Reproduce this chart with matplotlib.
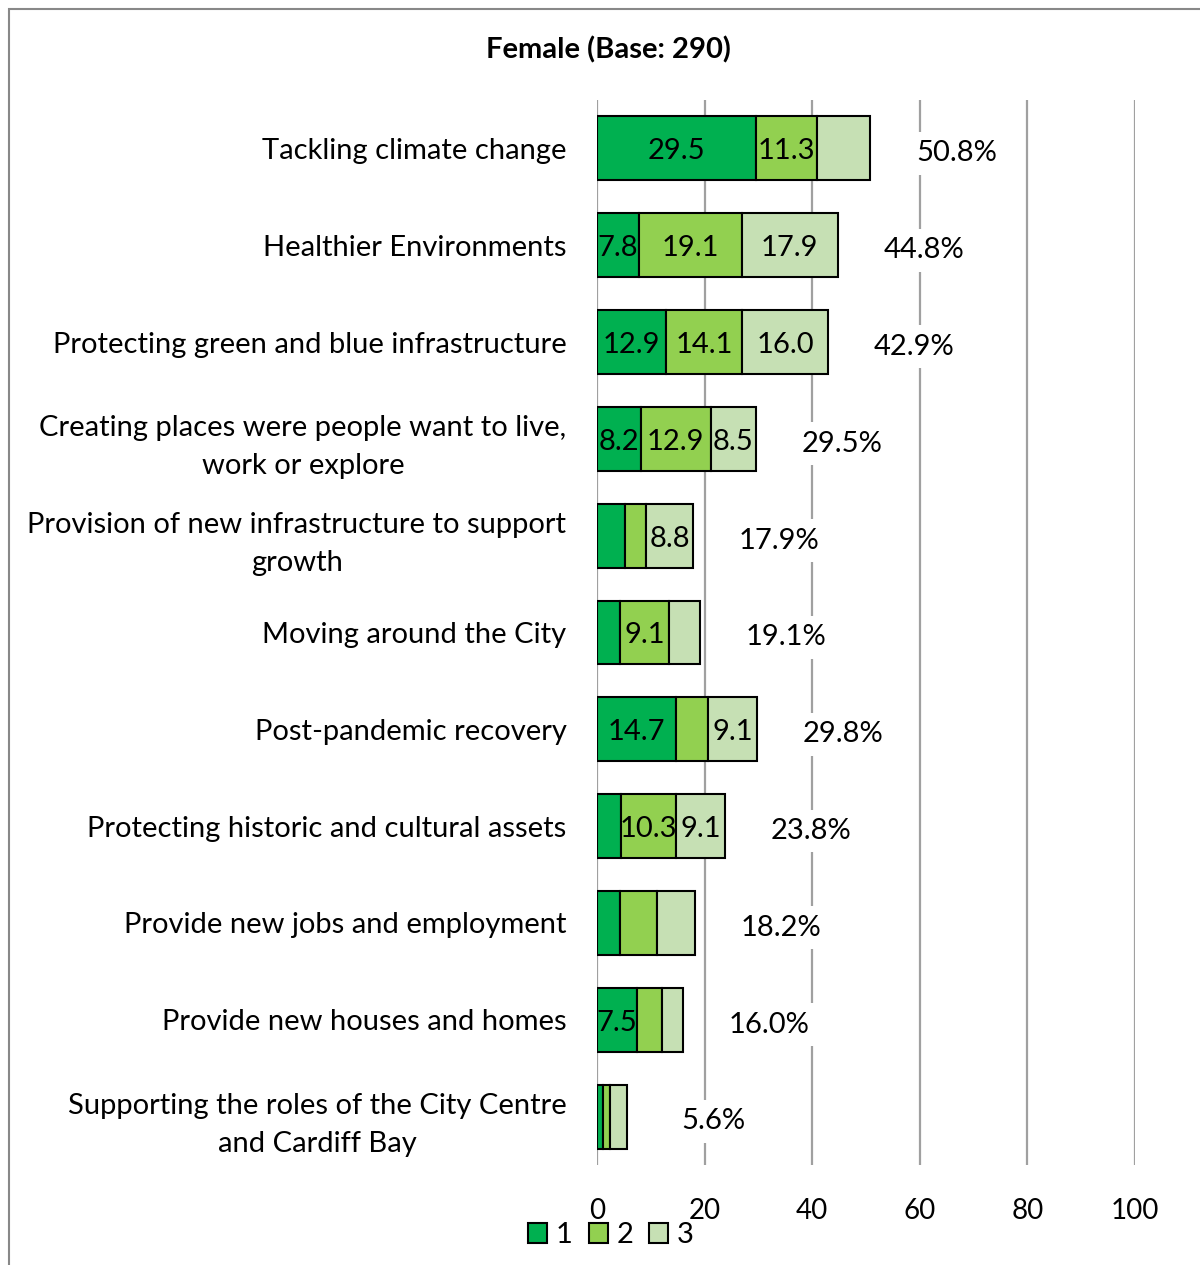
import matplotlib
matplotlib.use("Agg")
import matplotlib.pyplot as plt
import numpy as np
from matplotlib.patches import Patch, Rectangle

categories = [
    "Tackling climate change",
    "Healthier Environments",
    "Protecting green and blue infrastructure",
    "Creating places were people want to live,\nwork or explore",
    "Provision of new infrastructure to support\ngrowth",
    "Moving around the City",
    "Post-pandemic recovery",
    "Protecting historic and cultural assets",
    "Provide new jobs and employment",
    "Provide new houses and homes",
    "Supporting the roles of the City Centre\nand Cardiff Bay",
]
rank1 = [29.5, 7.8, 12.9, 8.2, 5.2, 4.3, 14.7, 4.4, 4.3, 7.5, 1.1]
rank2 = [11.3, 19.1, 14.1, 12.9, 3.9, 9.1, 6.0, 10.3, 6.9, 4.6, 1.3]
rank3 = [10.0, 17.9, 16.0, 8.5, 8.8, 5.7, 9.1, 9.1, 7.0, 3.9, 3.2]
totals = [50.8, 44.8, 42.9, 29.5, 17.9, 19.1, 29.8, 23.8, 18.2, 16.0, 5.6]
show1 = [1, 1, 1, 1, 0, 0, 1, 0, 0, 1, 0]
show2 = [1, 1, 1, 1, 0, 1, 0, 1, 0, 0, 0]
show3 = [0, 1, 1, 1, 1, 0, 1, 1, 0, 0, 0]
series_names = ["1", "2", "3"]
colors = ["#00B050", "#92D050", "#C6E0B4"]
xticks = [0, 20, 40, 60, 80, 100]
title = "Female (Base: 290)"

plt.rcParams['font.family'] = ['Lato', 'DejaVu Sans']
FS = 21

fig = plt.figure(figsize=(12, 12.65), dpi=100)
ax = fig.add_axes([597/1200, 1-1165/1265, (1135-597)/1200, (1165-100)/1265])

y = np.arange(len(categories))
left = np.zeros(len(categories))
for vals, shows, col, name in zip([rank1, rank2, rank3], [show1, show2, show3], colors, series_names):
    vals = np.array(vals)
    bars = ax.barh(y, vals, left=left, height=0.66, color=col, edgecolor='black', linewidth=1.5, label=name, zorder=3)
    for i, (b, v, s) in enumerate(zip(bars, vals, shows)):
        if s:
            ax.text(left[i] + v/2, i + 0.03, f"{v:.1f}", ha='center', va='center', fontsize=FS, zorder=4)
    left = left + vals

for i, t in enumerate(totals):
    ax.text(t + 16, i + 0.05, f"{t:.1f}%", ha='center', va='center', fontsize=FS, zorder=2,
            bbox=dict(facecolor='white', edgecolor='none', pad=6))

ax.set_xlim(0, 100)
ax.set_ylim(len(categories) - 0.5, -0.5)
ax.set_xticks(xticks)
ax.set_xticklabels([str(v) for v in xticks], fontsize=20)
ax.set_yticks(y)
ax.set_yticklabels(categories, fontsize=FS, multialignment='center', linespacing=1.55)
ax.tick_params(axis='y', length=0, pad=22)
ax.tick_params(axis='x', length=0, pad=24)
for s in ax.spines.values():
    s.set_visible(False)
ax.grid(axis='x', color='#A0A0A0', linewidth=1.6, zorder=0)
ax.set_axisbelow(True)

fig.text(608/1200, 1-50/1265, title, ha='center', va='center', fontsize=21, fontweight='bold')

handles = [Patch(facecolor=c, edgecolor='black', linewidth=1.5) for c in colors]
fig.legend(handles, series_names, loc='center', bbox_to_anchor=(611/1200, 1-1235/1265), ncol=3,
           frameon=False, fontsize=FS, handlelength=0.65, handleheight=0.7, handletextpad=0.3,
           columnspacing=0.55, borderpad=0)

fig.add_artist(Rectangle((9/1200, -0.1), 1.5, 1.1 - 9/1265, transform=fig.transFigure,
                         fill=False, edgecolor='#888888', linewidth=1.5))

fig.savefig("out.png", dpi=100)
